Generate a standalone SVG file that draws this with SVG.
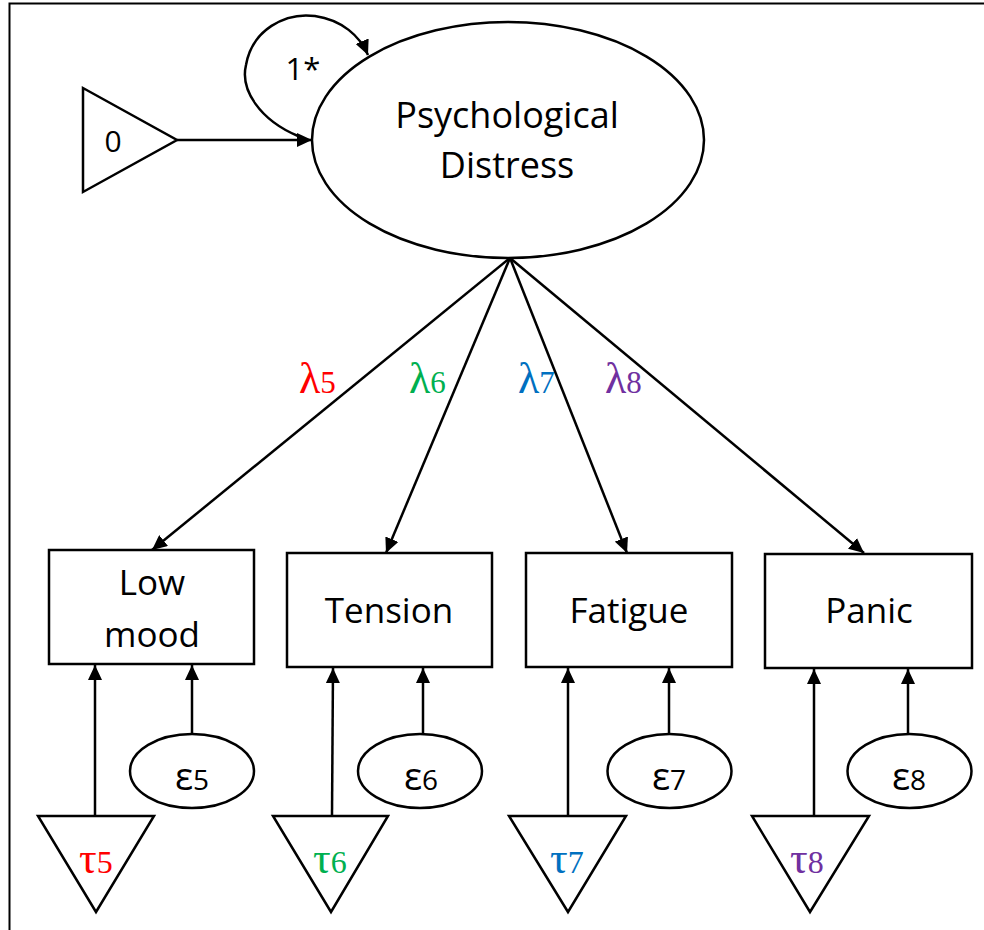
<svg xmlns="http://www.w3.org/2000/svg" width="984" height="930" viewBox="0 0 984 930">
<defs>
<marker id="ah" markerUnits="userSpaceOnUse" markerWidth="16" markerHeight="14" refX="15" refY="7" orient="auto">
<path d="M0,0 L15,7 L0,14 z" fill="#000"/>
</marker>
<style>
.s{fill:#fff;stroke:#000;stroke-width:2.5}
.c{fill:none;stroke:#000;stroke-width:2.5;marker-end:url(#ah)}
.t{font-family:"Open Sans","Liberation Sans",sans-serif;fill:#000;text-anchor:middle}
.g{font-family:"Liberation Serif","Times New Roman",serif}
</style>
</defs>
<rect width="984" height="930" fill="#fff"/>
<path d="M9.5,930 V3.5 H984" fill="none" stroke="#000" stroke-width="2"/>

<g id="connectors">
<line class="c" x1="177" y1="140" x2="312" y2="140"/>
<path class="c" d="M298,136 C260,120 240,90 246,65 C252,30 285,12 315,16 C342,20 360,36 368,55"/>
<line class="c" x1="510" y1="258" x2="152" y2="550"/>
<line class="c" x1="510" y1="258" x2="386" y2="553"/>
<line class="c" x1="510" y1="258" x2="627" y2="553"/>
<line class="c" x1="510" y1="258" x2="864" y2="553"/>
<line class="c" x1="95" y1="816" x2="95" y2="665"/>
<line class="c" x1="192" y1="734" x2="192" y2="665"/>
<line class="c" x1="332" y1="816" x2="333" y2="668"/>
<line class="c" x1="423" y1="734" x2="423" y2="668"/>
<line class="c" x1="568" y1="816" x2="568" y2="668"/>
<line class="c" x1="669" y1="734" x2="669" y2="668"/>
<line class="c" x1="814" y1="816" x2="814" y2="669"/>
<line class="c" x1="908" y1="734" x2="908" y2="669"/>
</g>

<g id="label-var"><text class="t" x="303" y="80" font-size="31">1*</text></g>

<g id="mean0">
<polygon class="s" points="83,88 83,192 177,140"/>
<text class="t" x="113" y="152" font-size="30">0</text>
</g>

<g id="distress">
<ellipse class="s" cx="508" cy="140" rx="196" ry="118"/>
<text class="t" x="507" y="128" font-size="36">Psychological</text>
<text class="t" x="507" y="178" font-size="36">Distress</text>
</g>

<g id="loadings" class="g">
<text x="299" y="393" font-size="44" fill="#FF0000">λ<tspan font-size="31">5</tspan></text>
<text x="409" y="393" font-size="44" fill="#00B050">λ<tspan font-size="31">6</tspan></text>
<text x="518" y="393" font-size="44" fill="#0070C0">λ<tspan font-size="31">7</tspan></text>
<text x="605" y="393" font-size="44" fill="#7030A0">λ<tspan font-size="31">8</tspan></text>
</g>

<g id="lowmood">
<rect class="s" x="49" y="550" width="205" height="114"/>
<text class="t" x="152" y="595" font-size="35">Low</text>
<text class="t" x="152" y="647" font-size="35">mood</text>
</g>
<g id="tension">
<rect class="s" x="287" y="553" width="205" height="114"/>
<text class="t" x="389" y="623" font-size="35">Tension</text>
</g>
<g id="fatigue">
<rect class="s" x="526" y="553" width="206" height="114"/>
<text class="t" x="629" y="623" font-size="35">Fatigue</text>
</g>
<g id="panic">
<rect class="s" x="765" y="554" width="207" height="114"/>
<text class="t" x="869" y="623" font-size="35">Panic</text>
</g>

<g id="e5">
<ellipse class="s" cx="192" cy="771" rx="62" ry="37"/>
<text class="t" x="192" y="790" font-size="38">ε<tspan font-size="28">5</tspan></text>
</g>
<g id="e6">
<ellipse class="s" cx="420" cy="771" rx="62" ry="37"/>
<text class="t" x="421" y="790" font-size="38">ε<tspan font-size="28">6</tspan></text>
</g>
<g id="e7">
<ellipse class="s" cx="669.5" cy="771" rx="62" ry="37"/>
<text class="t" x="669" y="790" font-size="38">ε<tspan font-size="28">7</tspan></text>
</g>
<g id="e8">
<ellipse class="s" cx="909.5" cy="771" rx="62" ry="37"/>
<text class="t" x="909" y="790" font-size="38">ε<tspan font-size="28">8</tspan></text>
</g>

<g id="t5">
<polygon class="s" points="38,816 154,816 96,912"/>
<text class="g" x="79" y="873" font-size="44" fill="#FF0000">τ<tspan font-size="32">5</tspan></text>
</g>
<g id="t6">
<polygon class="s" points="273,816 388,816 331,912"/>
<text class="g" x="313" y="873" font-size="44" fill="#00B050">τ<tspan font-size="32">6</tspan></text>
</g>
<g id="t7">
<polygon class="s" points="509,816 626,816 568,912"/>
<text class="g" x="550" y="873" font-size="44" fill="#0070C0">τ<tspan font-size="32">7</tspan></text>
</g>
<g id="t8">
<polygon class="s" points="752,816 869,816 810,912"/>
<text class="g" x="790" y="873" font-size="44" fill="#7030A0">τ<tspan font-size="32">8</tspan></text>
</g>
</svg>
